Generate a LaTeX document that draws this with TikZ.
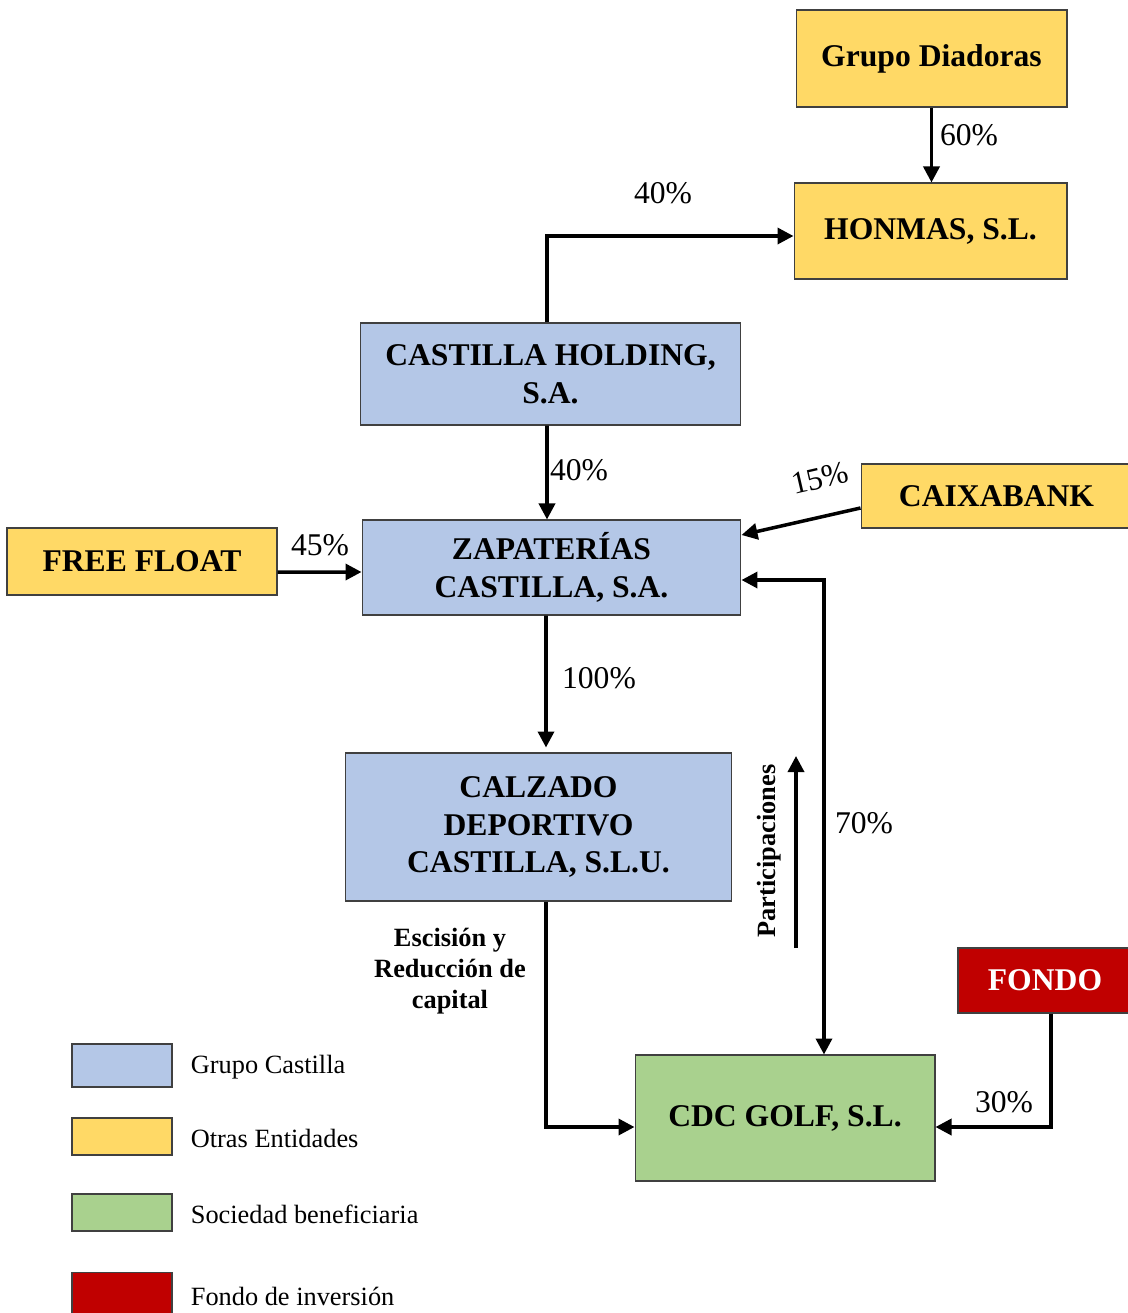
\documentclass[tikz,border=0pt]{standalone}
\usepackage{fontspec}
\setmainfont{Liberation Serif}
\usetikzlibrary{positioning, arrows.meta}
\definecolor{grupoblue}{HTML}{B4C7E7}
\definecolor{otrasyellow}{HTML}{FFD966}
\definecolor{socgreen}{HTML}{A9D18E}
\definecolor{fondored}{HTML}{C00000}
\tikzset{
x=0.02cm, y=-0.02cm, % one unit is one pixel of the sketch
>={Triangle[length=3.2mm, width=3.2mm]}, % filled arrow heads
link/.style={->, line width=2pt}, % the ownership connectors
entity/.style={draw=black!75, line width=0.6pt, inner sep=0pt, align=center, font=\fontsize{18}{21.6}\selectfont\bfseries}, % every company box
pct/.style={font=\fontsize{18}{21.6}\selectfont, inner sep=0pt}, % percentages
note/.style={font=\fontsize{15}{17.6}\selectfont\bfseries, inner sep=0pt, align=center}, % bold remarks
legbox/.style={draw=black!75, line width=0.6pt, minimum width=2cm, inner sep=0pt}, % legend swatch
legtext/.style={font=\fontsize{15}{18}\selectfont, inner sep=0pt}, % legend text
}

\begin{document}
\begin{tikzpicture}
    \useasboundingbox (0,0) rectangle (1128,1313);
    % companies
    \node[entity, fill=otrasyellow, minimum width=5.42cm, minimum height=1.94cm] (diadoras) at (931.5,58.5) {Grupo Diadoras};
    \node[entity, fill=otrasyellow, minimum width=5.46cm, minimum height=1.92cm] (honmas) at (930.5,231) {HONMAS, S.L.};
    \node[entity, fill=grupoblue, minimum width=7.62cm, minimum height=2.04cm] (holding) at (550.5,374) {CASTILLA HOLDING,\\S.A.};
    \node[entity, fill=grupoblue, minimum width=7.58cm, minimum height=1.9cm] (zapaterias) at (551.5,567.5) {ZAPATERÍAS\\CASTILLA, S.A.};
    \node[entity, fill=otrasyellow, minimum width=5.4cm, minimum height=1.34cm] (freefloat) at (142,561.5) {FREE FLOAT};
    \node[entity, fill=otrasyellow, minimum width=5.42cm, minimum height=1.28cm] (caixabank) at (996.5,496) {CAIXABANK};
    \node[entity, fill=grupoblue, minimum width=7.74cm, minimum height=2.96cm] (calzado) at (538.5,827) {CALZADO\\DEPORTIVO\\CASTILLA, S.L.U.};
    \node[entity, fill=socgreen, minimum width=6cm, minimum height=2.52cm] (cdcgolf) at (785,1118) {CDC GOLF, S.L.};
    \node[entity, fill=fondored, text=white, minimum width=3.48cm, minimum height=1.3cm] (fondo) at (1045,980.5) {FONDO};

    % connectors
    \draw[link] (diadoras.south) -- (diadoras.south |- honmas.north);
    \draw[link] ([xshift=-0.07cm]holding.north) |- ([yshift=-0.1cm]honmas.west);
    \draw[link] ([xshift=-0.07cm]holding.south) -- ([xshift=-0.09cm]zapaterias.north);
    \draw[link] ([yshift=-0.21cm]freefloat.east) -- ([yshift=-0.09cm]zapaterias.west);
    \draw[link] ([yshift=-0.24cm]caixabank.west) -- ([yshift=0.65cm]zapaterias.east);
    \draw[link] ([xshift=-0.11cm]zapaterias.south) -- ([xshift=0.15cm,yshift=0.1cm]calzado.north);
    \draw[link] ([xshift=0.15cm]calzado.south) |- ([yshift=-0.18cm]cdcgolf.west);
    \draw[link, <->] ([yshift=-0.25cm]zapaterias.east) -| ([xshift=0.78cm]cdcgolf.north);
    \draw[link] ([xshift=0.12cm]fondo.south) |- ([yshift=-0.18cm]cdcgolf.east);
    \coordinate (partA) at (796,948);
    \coordinate (partB) at (796,756);
    \draw[link] (partA) -- (partB);

    % percentages
    \node[pct] (p60) at (969,135) {60\%};
    \node[pct] (p40a) at (663,193) {40\%};
    \node[pct] (p40b) at (579,470) {40\%};
    \node[pct] (p45) at (320,545) {45\%};
    \node[pct, rotate=13] (p15) at (820,478) {15\%};
    \node[pct] (p100) at (599,678) {100\%};
    \node[pct] (p70) at (864,823) {70\%};
    \node[pct] (p30) at (1004,1102) {30\%};

    % remarks
    \node[note] (escision) at (450,971) {Escisión y\\Reducción de\\capital};
    \node[note, rotate=90] (partic) at (769,851) {Participaciones};

    % legend
    \foreach \i/\y/\h/\c/\t in {1/1065.5/0.86cm/grupoblue/Grupo Castilla,
                              2/1136.5/0.74cm/otrasyellow/Otras Entidades,
                              3/1212.5/0.74cm/socgreen/Sociedad beneficiaria,
                              4/1295/0.9cm/fondored/Fondo de inversión} {
        \node[legbox, fill=\c, minimum height=\h] (key\i) at (122,\y) {};
        \node[legtext, right=0.36cm of key\i, yshift=-0.03cm] (keytext\i) {\t};
    }
\end{tikzpicture}
\end{document}
